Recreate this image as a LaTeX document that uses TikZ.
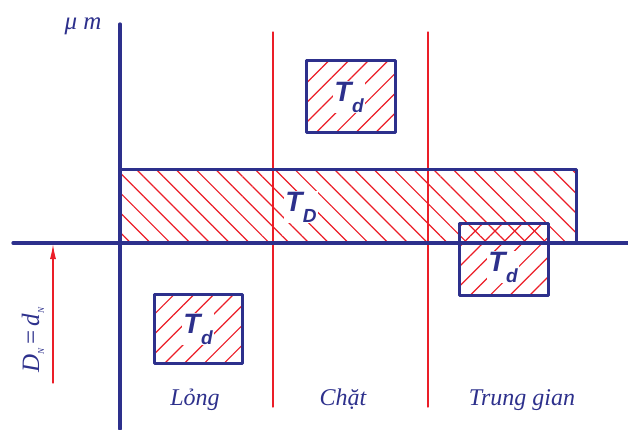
\documentclass[tikz,border=0pt]{standalone}
\usepackage{fontspec}
\setmainfont{Liberation Serif}
\newfontfamily\tolfont{Liberation Sans}
\usetikzlibrary{arrows.meta,patterns.meta}
\definecolor{axisblue}{RGB}{45,48,140}
\definecolor{hatchred}{RGB}{235,30,40}
\newcommand{\tolsub}[1]{\kern0.5pt\raisebox{-11pt}{\fontsize{19}{21}\selectfont #1}}

\begin{document}
\begin{tikzpicture}[line cap=round,line join=round,x=1pt,y=-1pt,
  tolbox/.style={draw=axisblue,line width=3pt},
  holebox/.style={tolbox,pattern={Lines[angle=-45,distance=14pt,line width=1.2pt]},pattern color=hatchred},
  shaftbox/.style={tolbox,pattern={Lines[angle=45,distance=14pt,line width=1.2pt]},pattern color=hatchred},
  zoneline/.style={hatchred,line width=1.3pt},
  fitlabel/.style={text=axisblue,font=\fontsize{24}{28}\selectfont\itshape,anchor=base},
  tollabel/.style={text=axisblue,fill=white,inner sep=1pt,font=\fontsize{28}{32}\tolfont\bfseries\itshape}]
\useasboundingbox (0,0) rectangle (628,429);
%\draw [help lines, step=50] (0,0) grid (628,429);
% zone boundaries
\draw[zoneline] (273,32) -- (273,407);
\draw[zoneline] (428,32) -- (428,407);
% hole tolerance zone
\draw[holebox] (120,169) rectangle (576,243);
% shaft tolerance zones
\draw[shaftbox] (306,60) rectangle (395,132);
\draw[shaftbox] (154,294) rectangle (242,363);
\draw[shaftbox] (459,223) rectangle (548,295);
% axes
\draw[axisblue,line width=3.3pt] (120,24) -- (120,429);
\draw[axisblue,line width=3.3pt] (13,243) -- (628,243);
\coordinate (foot) at (53,383);
\coordinate (zero) at (53,244);
\draw[hatchred,line width=1.2pt,-{Latex[length=15pt,width=6pt]}] (foot) -- (zero);
% labels
\node[tollabel] (TD) at (301,207) {T\tolsub{D}};
\node[tollabel] (Td1) at (349,97) {T\tolsub{d}};
\node[tollabel] (Td2) at (198,329) {T\tolsub{d}};
\node[tollabel] (Td3) at (503,267) {T\tolsub{d}};
\node[text=axisblue,font=\fontsize{25}{28}\selectfont\itshape,anchor=base] (unit) at (83,29) {μ m};
\node[text=axisblue,rotate=90,font=\fontsize{25}{28}\selectfont\itshape] (nominal) at (33,340)
  {D\raisebox{-5pt}{\fontsize{9}{10}\selectfont N}\,{\upshape=}\,d\raisebox{-5pt}{\fontsize{9}{10}\selectfont N}};
\node[fitlabel] (loose) at (195,405) {Lỏng};
\node[fitlabel] (tight) at (343,405) {Chặt};
\node[fitlabel] (mid) at (522,405) {Trung gian};
\end{tikzpicture}
\end{document}
